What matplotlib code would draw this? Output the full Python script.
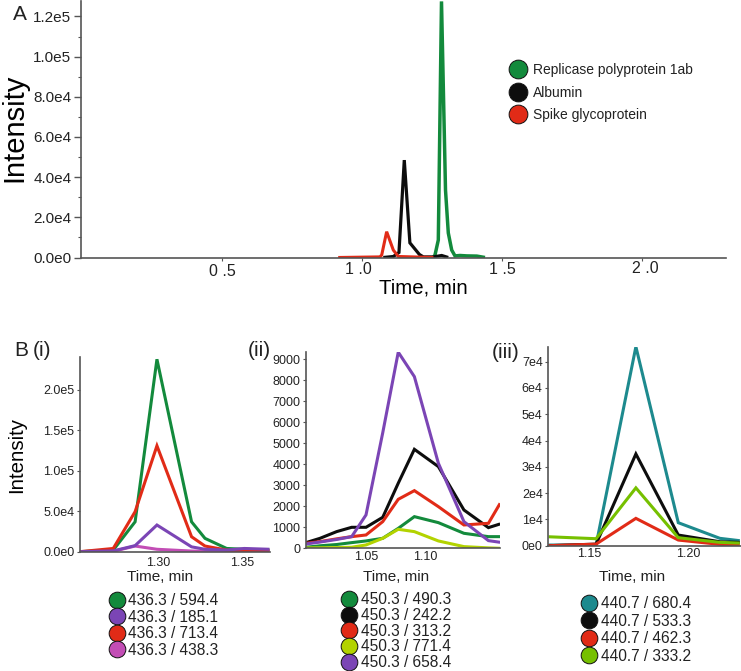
import matplotlib
matplotlib.use("Agg")
import matplotlib.pyplot as plt
from matplotlib.lines import Line2D
from matplotlib.ticker import MultipleLocator
from matplotlib.transforms import Affine2D, ScaledTranslation

plt.rcParams['font.family'] = ['Liberation Sans', 'DejaVu Sans']

GREEN = '#138a3c'; BLACK = '#0d0d0d'; RED = '#e12b17'; PURPLE = '#7b45b5'
MAGENTA = '#c24db5'; LIME = '#b3d300'; LIME2 = '#76c000'; TEAL = '#1d8a8e'

# Panel A
a_green_t = [1.2548, 1.2607, 1.2725, 1.2839, 1.2982, 1.3082, 1.3204, 1.3321, 1.35, 1.374, 1.41, 1.4393]
a_green_y = [0, 1250, 8700, 127500, 33600, 12200, 3700, 800, 1000, 800, 700, 0]
a_black_t = [1.076, 1.112, 1.132, 1.151, 1.171, 1.205, 1.219, 1.255, 1.2846, 1.308]
a_black_y = [0, 500, 2500, 48500, 7300, 1500, 300, 300, 1000, 0]
a_red_t = [0.915, 1.064, 1.0704, 1.088, 1.1118, 1.13, 1.255]
a_red_y = [0, 300, 1250, 12850, 3700, 500, 0]
a_names = ['Replicase polyprotein 1ab', 'Albumin', 'Spike glycoprotein']

# Panel B (i)
i_t = [1.253, 1.273, 1.286, 1.299, 1.3196, 1.3276, 1.3405, 1.351, 1.366]
i_green = [0, 2000, 37000, 238000, 37000, 16500, 4000, 3000, 2000]
i_magenta = [0, 500, 7000, 3000, 800, 500, 500, 500, 500]
i_red = [0, 4000, 49500, 131000, 18500, 7000, 2000, 1000, 1000]
i_purple = [0, 1000, 7500, 33000, 6000, 3000, 2000, 4000, 3000]
i_names = ['436.3 / 594.4', '436.3 / 185.1', '436.3 / 713.4', '436.3 / 438.3']

# Panel B (ii)
ii_t = [0.9997, 1.0115, 1.0254, 1.038, 1.05, 1.064, 1.077, 1.0905, 1.1106, 1.132, 1.1525, 1.1623]
ii_green = [50, 120, 180, 270, 350, 476, 950, 1508, 1222, 714, 555, 555]
ii_black = [270, 476, 794, 1000, 1000, 1476, 3100, 4714, 3890, 1825, 984, 1160]
ii_red = [238, 320, 450, 555, 635, 1270, 2333, 2746, 1984, 1111, 1190, 2140]
ii_lime = [20, 25, 35, 50, 160, 476, 905, 794, 350, 80, 20, 0]
ii_purple = [206, 300, 420, 555, 1590, 5500, 9340, 8175, 4050, 1270, 365, 286]
ii_names = ['450.3 / 490.3', '450.3 / 242.2', '450.3 / 313.2', '450.3 / 771.4', '450.3 / 658.4']

# Panel B (iii)
iii_t = [1.1298, 1.1537, 1.1737, 1.195, 1.2159, 1.2259]
iii_teal = [250, 250, 75700, 8750, 2800, 1900]
iii_black = [0, 600, 34900, 4050, 1500, 1270]
iii_red = [0, 600, 10400, 2150, 500, 250]
iii_lime = [3400, 2660, 22000, 3040, 1270, 1000]
iii_names = ['440.7 / 680.4', '440.7 / 533.3', '440.7 / 462.3', '440.7 / 333.2']

W, H = 741, 671
fig = plt.figure(figsize=(W / 100, H / 100), dpi=100)
px = Affine2D().scale(1 / W, -1 / H).translate(0, 1) + fig.transFigure
SPINE = '#555555'; TXT = '#222222'


def make_axes(l, t, r, b, xlim, ylim):
    ax = fig.add_axes([l / W, 1 - b / H, (r - l) / W, (b - t) / H])
    ax.set_xlim(*xlim); ax.set_ylim(*ylim)
    for s in ('top', 'right'):
        ax.spines[s].set_visible(False)
    for s in ('left', 'bottom'):
        ax.spines[s].set_color(SPINE); ax.spines[s].set_linewidth(1.2)
    return ax


def lines(ax, t, series, lw):
    for y, c in series:
        ax.plot(t, y, color=c, lw=lw, solid_joinstyle='miter', solid_capstyle='butt')


def legend(ax, names, colors, x, y, fs, ms, spacing, pad=0.2):
    hs = [Line2D([], [], ls='none', marker='o', ms=ms, mfc=c, mec='#111111', mew=0.7) for c in colors]
    leg = ax.legend(hs, names, loc='upper left', bbox_to_anchor=(x, y), bbox_transform=px,
                    frameon=False, fontsize=fs, labelspacing=spacing, borderpad=0, borderaxespad=0,
                    handletextpad=pad, handlelength=1.1, labelcolor=TXT)
    return leg


# ---------- Panel A
axA = make_axes(81, 1, 726, 257.5, (-0.0036, 2.3), (0, 127700))
lines(axA, a_green_t, [(a_green_y, GREEN)], 2.5)
lines(axA, a_black_t, [(a_black_y, BLACK)], 2.3)
lines(axA, a_red_t, [(a_red_y, RED)], 2.2)
axA.set_yticks([0, 20000, 40000, 60000, 80000, 100000, 120000],
               ['0.0e0', '2.0e4', '4.0e4', '6.0e4', '8.0e4', '1.0e5', '1.2e5'])
axA.yaxis.set_minor_locator(MultipleLocator(10000))
axA.tick_params(axis='y', which='major', length=5, width=1, color=SPINE, labelsize=11, pad=2, labelcolor=TXT)
axA.tick_params(axis='y', which='minor', length=2, width=0.8, color=SPINE)
axA.set_xticks([0.5, 1.0, 1.5, 2.0], ['0 .5', '1 .0', '1 .5', '2 .0'])
axA.tick_params(axis='x', length=2, width=0.8, color=SPINE, labelsize=11.5, pad=3, labelcolor=TXT)
offsets = [(0, 0), (-4, 2), (0, 2), (3, 3)]
for lab, (dx, dy) in zip(axA.get_xticklabels(), offsets):
    lab.set_transform(lab.get_transform() + ScaledTranslation(dx / 100, dy / 100, fig.dpi_scale_trans))
axA.set_ylabel('Intensity', fontsize=21, va='center')
axA.yaxis.set_label_coords(14, 128, transform=px)
axA.set_xlabel('Time, min', fontsize=14.7, va='center')
axA.xaxis.set_label_coords(423, 288, transform=px)
legend(axA, a_names, [GREEN, BLACK, RED], 510, 63, 10, 13.5, 0.62, pad=0.55)

# ---------- Panel B (i)
ax1 = make_axes(80, 357, 270, 551.7, (1.2532, 1.3663), (0, 240800))
lines(ax1, i_t, [(i_green, GREEN), (i_magenta, MAGENTA), (i_red, RED), (i_purple, PURPLE)], 2.2)
ax1.set_yticks([0, 50000, 100000, 150000, 200000], ['0.0e0', '5.0e4', '1.0e5', '1.5e5', '2.0e5'])
ax1.set_xticks([1.30, 1.35], ['1.30', '1.35'])
ax1.set_ylabel('Intensity', fontsize=14.7, va='center')
ax1.yaxis.set_label_coords(17, 455, transform=px)
legend(ax1, i_names, [GREEN, PURPLE, RED, MAGENTA], 108, 593, 11.2, 12, 0.1)

# ---------- Panel B (ii)
ax2 = make_axes(306, 352, 500, 548.3, (0.99975, 1.1622), (0, 9348))
lines(ax2, ii_t, [(ii_green, GREEN), (ii_black, BLACK), (ii_red, RED), (ii_lime, LIME), (ii_purple, PURPLE)], 2.2)
ax2.set_yticks(range(0, 9001, 1000))
ax2.set_xticks([1.05, 1.10], ['1.05', '1.10'])
legend(ax2, ii_names, [GREEN, BLACK, RED, LIME, PURPLE], 340, 592.5, 11.2, 12, 0.04, pad=0.26)

# ---------- Panel B (iii)
ax3 = make_axes(548.3, 346.7, 741, 545.7, (1.1297, 1.2265), (0, 75700))
lines(ax3, iii_t, [(iii_teal, TEAL), (iii_black, BLACK), (iii_red, RED), (iii_lime, LIME2)], 2.2)
ax3.set_yticks([0, 10000, 20000, 30000, 40000, 50000, 60000, 70000],
               ['0e0', '1e4', '2e4', '3e4', '4e4', '5e4', '6e4', '7e4'])
ax3.set_xticks([1.15, 1.20], ['1.15', '1.20'])
legend(ax3, iii_names, [TEAL, BLACK, RED, LIME2], 580, 596, 11.2, 12, 0.17, pad=0.26)

for ax, cx, pad in ((ax1, 160, 4), (ax2, 396, 2), (ax3, 632, 2)):
    ax.tick_params(axis='y', length=2, width=0.8, color=SPINE, labelsize=9, pad=2, labelcolor=TXT)
    ax.tick_params(axis='x', length=0, labelsize=9, pad=pad, labelcolor=TXT)
    ax.set_xlabel('Time, min', fontsize=11, va='center', color=TXT)
    ax.xaxis.set_label_coords(cx, 577, transform=px)

# ---------- Panel letters
for s, x, y in (('A', 13, 15), ('B', 14, 351), ('(i)', 33, 351), ('(ii)', 248, 351), ('(iii)', 492, 353)):
    fig.text(x, y, s, transform=px, fontsize=15, va='center', ha='left', color='#222222')

fig.savefig('out.png', dpi=100)
